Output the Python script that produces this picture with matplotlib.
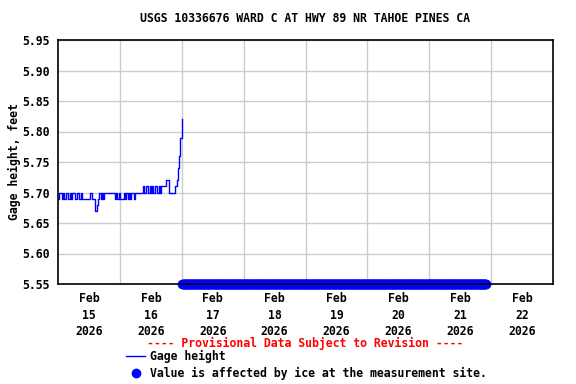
import matplotlib
matplotlib.use("Agg")
import matplotlib.pyplot as plt
from matplotlib.lines import Line2D
import pandas as pd

# gage height, half-hourly readings from Feb 15 00:00
gage_start = "2026-02-15 00:00"
gage_height = [
    5.69, 5.70, 5.70, 5.69, 5.70, 5.69, 5.70, 5.70, 5.69, 5.70, 5.69, 5.70,
    5.70, 5.69, 5.69, 5.70, 5.69, 5.69, 5.70, 5.69, 5.69, 5.69, 5.69, 5.69,
    5.69, 5.70, 5.69, 5.69, 5.69, 5.67, 5.68, 5.69, 5.70, 5.69, 5.70, 5.69,
    5.70, 5.70, 5.70, 5.70, 5.70, 5.70, 5.70, 5.70, 5.69, 5.70, 5.69, 5.70,
    5.69, 5.69, 5.69, 5.70, 5.69, 5.70, 5.69, 5.70, 5.69, 5.70, 5.70, 5.69,
    5.70, 5.70, 5.70, 5.70, 5.70, 5.70, 5.71, 5.70, 5.71, 5.71, 5.70, 5.71,
    5.70, 5.71, 5.70, 5.71, 5.71, 5.70, 5.71, 5.70, 5.71, 5.71, 5.71, 5.71,
    5.72, 5.72, 5.70, 5.70, 5.70, 5.70, 5.70, 5.71, 5.72, 5.74, 5.76, 5.79,
    5.82,
]
gage_times = pd.date_range(gage_start, periods=len(gage_height), freq="30min")

# ice-affected period (15 minute readings)
ice_start = "2026-02-17 00:15"
ice_end = "2026-02-21 22:00"
ice_times = pd.date_range(ice_start, ice_end, freq="15min")
ice_level = [5.55] * len(ice_times)

day_labels = ["Feb\n15\n2026", "Feb\n16\n2026", "Feb\n17\n2026", "Feb\n18\n2026",
              "Feb\n19\n2026", "Feb\n20\n2026", "Feb\n21\n2026", "Feb\n22\n2026"]
days = pd.date_range("2026-02-15", periods=9, freq="D")

font = "DejaVu Sans Mono"
fs = 8.3

fig = plt.figure(figsize=(5.76, 3.84), dpi=100)
ax = fig.add_axes([58 / 576, 1 - 284 / 384, 495 / 576, 244 / 384])

ax.plot(gage_times, gage_height, color="blue", lw=1, drawstyle="steps-post")
ax.plot(ice_times, ice_level, "o", color="blue", ms=6, clip_on=False, zorder=2)

ax.set_xlim(days[0], days[-1])
ax.set_ylim(5.55, 5.95)
ax.set_yticks([5.55 + 0.05 * i for i in range(9)])
ax.set_yticklabels([f"{5.55 + 0.05 * i:.2f}" for i in range(9)],
                   fontfamily=font, fontweight="bold", fontsize=fs)

ax.set_xticks(days[1:-1], minor=False)
ax.set_xticklabels([])
ax.set_xticks(days[:-1] + pd.Timedelta(hours=12), minor=True)
ax.set_xticklabels(day_labels, minor=True, fontfamily=font, fontweight="bold",
                   fontsize=fs, linespacing=1.35)
ax.tick_params(axis="both", which="both", length=0, pad=6)
ax.grid(True, which="major", color="#cccccc", lw=1)
ax.set_axisbelow(True)
for s in ax.spines.values():
    s.set_linewidth(1.2)
    s.set_zorder(5)

ax.set_ylabel("Gage height, feet", fontfamily=font, fontweight="bold", fontsize=fs, labelpad=1)
ax.set_title("USGS 10336676 WARD C AT HWY 89 NR TAHOE PINES CA",
             fontfamily=font, fontweight="bold", fontsize=fs, pad=13)

fig.text(305 / 576, 1 - 343 / 384, "---- Provisional Data Subject to Revision ----",
         color="red", ha="center", va="center", fontfamily=font, fontweight="bold", fontsize=fs)
fig.add_artist(Line2D([126 / 576, 145 / 576], [1 - 356 / 384] * 2, color="blue", lw=1))
fig.text(150 / 576, 1 - 356 / 384, "Gage height", ha="left", va="center",
         fontfamily=font, fontweight="bold", fontsize=fs)
fig.add_artist(Line2D([136 / 576], [1 - 373 / 384], marker="o", color="blue", ms=6))
fig.text(150 / 576, 1 - 373 / 384, "Value is affected by ice at the measurement site.",
         ha="left", va="center", fontfamily=font, fontweight="bold", fontsize=fs)

fig.savefig("out.png", dpi=100)
